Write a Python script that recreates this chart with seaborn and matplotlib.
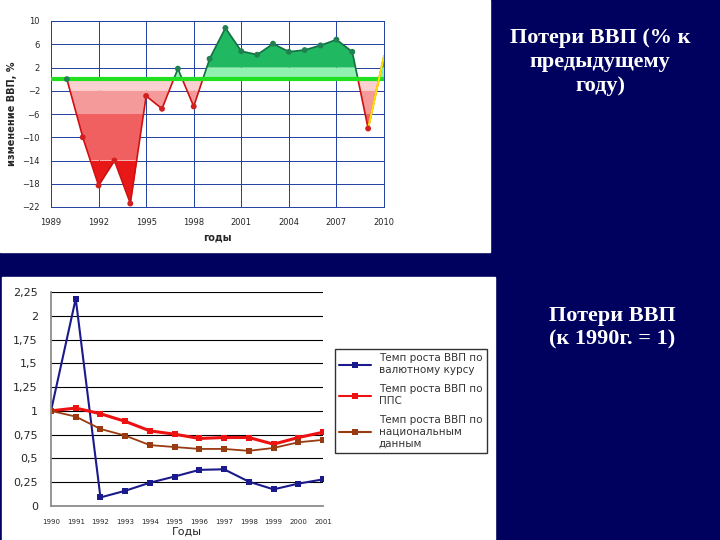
import numpy as np
import pandas as pd
import matplotlib
matplotlib.use("Agg")
import matplotlib.pyplot as plt
from matplotlib.patches import Rectangle
import seaborn as sns

# top chart data
years_top = [1990,1991,1992,1993,1994,1995,1996,1997,1998,1999,2000,2001,2002,2003,2004,2005,2006,2007,2008,2009,2010]
gdp_change = [0,-10,-18.3,-14,-21.4,-2.9,-5.1,1.8,-4.7,3.5,8.8,4.8,4.2,6.1,4.7,5.0,5.8,6.8,4.7,-8.5,4.0]
top_yticks = [10,6,2,-2,-6,-10,-14,-18,-22]
top_xticks = [1989,1992,1995,1998,2001,2004,2007,2010]

# bottom chart data
years_bot = [1990,1991,1992,1993,1994,1995,1996,1997,1998,1999,2000,2001]
fx_rate = [1,2.18,0.09,0.16,0.245,0.31,0.38,0.386,0.256,0.175,0.235,0.28]
ppp = [1,1.03,0.97,0.89,0.79,0.755,0.71,0.72,0.72,0.65,0.72,0.775]
national = [1,0.94,0.81,0.74,0.64,0.62,0.6,0.6,0.58,0.61,0.67,0.695]
bot_yticks = [0,0.25,0.5,0.75,1,1.25,1.5,1.75,2,2.25]
bot_ylabels = ["0","0,25","0,5","0,75","1","1,25","1,5","1,75","2","2,25"]
legend_labels = ["Темп роста ВВП по\nвалютному курсу","Темп роста ВВП по\nППС","Темп роста ВВП по\nнациональным\nданным"]

sns.set_theme(style="white")
plt.rcParams['font.family'] = ['DejaVu Sans']

W, H = 720, 540
fig = plt.figure(figsize=(7.2, 5.4), dpi=100)
fig.patch.set_facecolor("#00005e")
fig.patches.append(Rectangle((0, 1-252/H), 490/W, 252/H, transform=fig.transFigure, color="white", zorder=-10))
fig.patches.append(Rectangle((2/W, 0), 493/W, 263/H, transform=fig.transFigure, color="white", zorder=-10))

# ---- top chart
ax = fig.add_axes([51/W, 1-207/H, 333/W, 186/H])
ax.set_facecolor("white")
xf = np.linspace(years_top[0], years_top[-1], 2000)
yf = np.interp(xf, years_top, gdp_change)
neg_bands = [(-2,0,"#fbd0d0"),(-6,-2,"#f59a9a"),(-14,-6,"#f06060"),(-30,-14,"#e81818")]
for lo, hi, c in neg_bands:
    ax.fill_between(xf, hi, np.clip(yf, lo, hi), where=yf < hi, color=c, lw=0, interpolate=True)
pos_bands = [(0,2,"#90f0b0"),(2,30,"#20b860")]
for lo, hi, c in pos_bands:
    ax.fill_between(xf, lo, np.clip(yf, lo, hi), where=yf > lo, color=c, lw=0, interpolate=True)
df_top = pd.DataFrame({"year": years_top, "v": gdp_change})
ax.plot(xf, np.where(yf < 0, yf, np.nan), color="#d01010", lw=1.2)
ax.plot(xf, np.where(yf >= 0, yf, np.nan), color="#107040", lw=1.2)
pos = df_top[(df_top.v >= 0) & (df_top.year < 2010)]
negd = df_top[df_top.v < 0]
sns.scatterplot(data=pos, x="year", y="v", color="#208050", s=18, ax=ax, zorder=5, edgecolor="none")
sns.scatterplot(data=negd, x="year", y="v", color="#d02020", s=18, ax=ax, zorder=5, edgecolor="none")
ax.plot([2009, 2010], [-8.5, 4.0], color="#ffe000", lw=1.5, zorder=4)
ax.axhline(0, color="#20e020", lw=3, zorder=3)
ax.set_xlim(1989, 2010)
ax.set_ylim(-22, 10)
ax.set_yticks(top_yticks)
ax.set_xticks(top_xticks)
ax.grid(True, color="#2040a0", lw=0.7)
ax.set_axisbelow(True)
ax.tick_params(labelsize=6, pad=2)
for s in ax.spines.values():
    s.set_color("#2040a0"); s.set_linewidth(0.7)
ax.set_xlabel("годы", fontsize=7, fontweight="bold")
ax.set_ylabel("изменение ВВП, %", fontsize=7, fontweight="bold")

# ---- bottom chart
bx = fig.add_axes([51/W, 34/H, 272/W, 214/H])
bx.set_facecolor("white")
df_bot = pd.DataFrame({"year": years_bot * 3,
                       "v": fx_rate + ppp + national,
                       "s": [legend_labels[0]]*12 + [legend_labels[1]]*12 + [legend_labels[2]]*12})
palette = {legend_labels[0]: "#1a1a8c", legend_labels[1]: "#ee1111", legend_labels[2]: "#9a3a10"}
sns.lineplot(data=df_bot, x="year", y="v", hue="s", palette=palette, ax=bx,
             marker="s", markersize=4, markeredgewidth=0, legend=True)
for line, lw in zip(bx.lines, [1.5, 2.2, 1.3]):
    line.set_linewidth(lw)
bx.set_xlim(1990, 2001)
bx.set_ylim(0, 2.25)
bx.set_yticks(bot_yticks)
bx.set_yticklabels(bot_ylabels)
bx.set_xticks(years_bot)
bx.set_xticklabels([str(y) for y in years_bot])
bx.grid(axis="y", color="black", lw=0.8)
bx.tick_params(axis="y", labelsize=8)
bx.tick_params(axis="x", labelsize=5)
for k in ["top", "right"]:
    bx.spines[k].set_visible(False)
bx.spines["left"].set_color("#888888"); bx.spines["bottom"].set_color("#888888")
bx.set_xlabel("Годы", fontsize=8, labelpad=1)
bx.set_ylabel("")
leg = bx.legend(loc="upper left", bbox_to_anchor=(330/W, 1-344/H), bbox_transform=fig.transFigure,
                fontsize=7.5, frameon=True, fancybox=False, edgecolor="black", title=None,
                labelspacing=0.9, handlelength=3)
for txt in leg.get_texts():
    txt.set_color("#333333")

# ---- right side text
fig.text(600/W, 1-62/H, "Потери ВВП (% к\nпредыдущему\nгоду)", ha="center", va="center",
         color="white", fontsize=16, fontweight="bold", family="Liberation Serif", linespacing=1.25)
fig.text(612/W, 1-328/H, "Потери ВВП\n(к 1990г. = 1)", ha="center", va="center",
         color="white", fontsize=16, fontweight="bold", family="Liberation Serif", linespacing=1.25)

fig.savefig("out.png", dpi=100, facecolor=fig.get_facecolor())
